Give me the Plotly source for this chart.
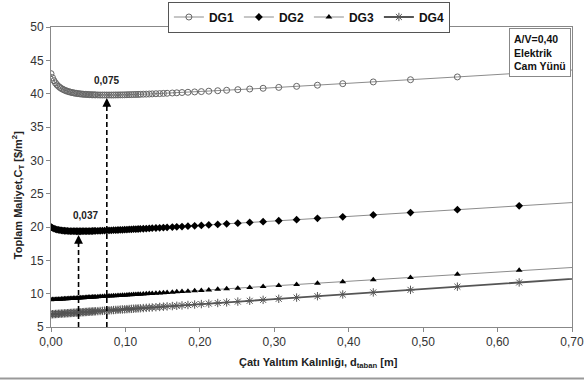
import plotly.graph_objects as go

# thickness d [m]
x_d = [0.000, 0.002, 0.004, 0.006, 0.008, 0.010, 0.012, 0.014, 0.016, 0.018,
       0.020, 0.022, 0.024, 0.026, 0.028, 0.030, 0.032, 0.034, 0.036, 0.038,
       0.040, 0.042, 0.044, 0.046, 0.048, 0.050, 0.052, 0.054, 0.056, 0.058,
       0.060, 0.063, 0.066, 0.069, 0.072, 0.075, 0.078, 0.081, 0.084, 0.087,
       0.090, 0.093, 0.096, 0.099, 0.102, 0.105,
       0.108, 0.111, 0.114, 0.117, 0.120, 0.124, 0.128, 0.132, 0.136, 0.141,
       0.146, 0.151, 0.156, 0.163, 0.169, 0.176, 0.184, 0.193, 0.202, 0.212,
       0.224, 0.236, 0.251, 0.267, 0.285, 0.306, 0.330, 0.358, 0.392, 0.433,
       0.483, 0.546, 0.629, 0.741]

dg1 = [43.00, 42.40, 41.95, 41.60, 41.33, 41.11, 40.93, 40.77, 40.65, 40.54,
       40.44, 40.36, 40.29, 40.23, 40.17, 40.13, 40.08, 40.05, 40.01, 39.98,
       39.96, 39.93, 39.91, 39.90, 39.88, 39.87, 39.85, 39.84, 39.83, 39.83,
       39.82, 39.81, 39.80, 39.80, 39.80, 39.80, 39.80, 39.80, 39.80, 39.81,
       39.81, 39.82, 39.82, 39.83, 39.84, 39.85,
       39.86, 39.87, 39.88, 39.89, 39.90, 39.92, 39.93, 39.95, 39.97, 39.99,
       40.01, 40.04, 40.06, 40.10, 40.13, 40.17, 40.21, 40.26, 40.31, 40.37,
       40.44, 40.51, 40.60, 40.70, 40.81, 40.94, 41.10, 41.27, 41.50, 41.76,
       42.09, 42.51, 43.07, 43.82]

dg2 = [20.00, 19.87, 19.76, 19.68, 19.62, 19.57, 19.53, 19.49, 19.46, 19.44,
       19.42, 19.41, 19.39, 19.38, 19.38, 19.37, 19.37, 19.36, 19.36, 19.36,
       19.36, 19.37, 19.37, 19.37, 19.38, 19.38, 19.39, 19.39, 19.40, 19.41,
       19.41, 19.42, 19.44, 19.45, 19.46, 19.48, 19.49, 19.50, 19.52, 19.53,
       19.55, 19.57, 19.58, 19.60, 19.62, 19.63,
       19.65, 19.67, 19.68, 19.70, 19.72, 19.74, 19.77, 19.79, 19.82, 19.85,
       19.88, 19.91, 19.94, 19.99, 20.03, 20.07, 20.12, 20.18, 20.24, 20.31,
       20.39, 20.47, 20.57, 20.68, 20.80, 20.94, 21.10, 21.30, 21.53, 21.81,
       22.16, 22.60, 23.17, 23.95]

dg3 = [9.10, 9.11, 9.13, 9.14, 9.16, 9.17, 9.18, 9.20, 9.21, 9.22,
       9.24, 9.25, 9.27, 9.28, 9.29, 9.31, 9.32, 9.33, 9.35, 9.36,
       9.38, 9.39, 9.40, 9.42, 9.43, 9.45, 9.46, 9.47, 9.49, 9.50,
       9.51, 9.53, 9.56, 9.58, 9.60, 9.62, 9.64, 9.66, 9.68, 9.70,
       9.72, 9.74, 9.76, 9.78, 9.80, 9.82,
       9.85, 9.87, 9.89, 9.91, 9.93, 9.96, 9.98, 10.01, 10.04, 10.07,
       10.11, 10.14, 10.18, 10.22, 10.27, 10.31, 10.37, 10.43, 10.49, 10.56,
       10.65, 10.73, 10.83, 10.94, 11.07, 11.21, 11.38, 11.57, 11.80, 12.09,
       12.43, 12.90, 13.50, 14.21]

dg4 = [6.90, 6.92, 6.93, 6.95, 6.96, 6.98, 6.99, 7.01, 7.02, 7.04,
       7.05, 7.07, 7.08, 7.10, 7.11, 7.13, 7.14, 7.16, 7.17, 7.19,
       7.20, 7.22, 7.23, 7.25, 7.26, 7.28, 7.30, 7.31, 7.33, 7.34,
       7.36, 7.38, 7.40, 7.42, 7.45, 7.47, 7.49, 7.52, 7.54, 7.56,
       7.58, 7.61, 7.63, 7.65, 7.68, 7.70,
       7.72, 7.74, 7.77, 7.79, 7.81, 7.84, 7.87, 7.90, 7.93, 7.97,
       8.01, 8.05, 8.09, 8.14, 8.18, 8.24, 8.30, 8.37, 8.44, 8.51,
       8.60, 8.69, 8.81, 8.93, 9.07, 9.23, 9.41, 9.62, 9.88, 10.19,
       10.57, 11.05, 11.68, 12.53]

names = ["DG1", "DG2", "DG3", "DG4"]
x_ticks = [0.0, 0.1, 0.2, 0.3, 0.4, 0.5, 0.6, 0.7]
x_tick_text = ["0,00", "0,10", "0,20", "0,30", "0,40", "0,50", "0,60", "0,70"]

# optimum thicknesses and their cost levels
opt_x = [0.075, 0.037]
opt_tip = [39.35, 18.8]
opt_labels = ["0,075", "0,037"]
opt_label_x = [0.074, 0.0466]
opt_label_y = [42.05, 21.8]

FONT = "Liberation Sans, Arial, sans-serif"

fig = go.Figure()
fig.add_trace(go.Scatter(x=x_d, y=dg1, name=names[0], mode="lines+markers",
                         line=dict(color="#8c8c8c", width=1),
                         marker=dict(symbol="circle-open", size=6, color="#666666",
                                     line=dict(color="#666666", width=1))))
fig.add_trace(go.Scatter(x=x_d, y=dg2, name=names[1], mode="lines+markers",
                         line=dict(color="#8c8c8c", width=1),
                         marker=dict(symbol="diamond", size=6, color="black")))
fig.add_trace(go.Scatter(x=x_d, y=dg3, name=names[2], mode="lines+markers",
                         line=dict(color="#8c8c8c", width=1),
                         marker=dict(symbol="triangle-up", size=6, color="black")))
fig.add_trace(go.Scatter(x=x_d, y=dg4, name=names[3], mode="lines+markers",
                         line=dict(color="#555555", width=1.8),
                         marker=dict(symbol="asterisk-open", size=7,
                                     line=dict(color="#555555", width=1))))

shapes = []
annotations = []
for ox, tip, lab, lx, ly in zip(opt_x, opt_tip, opt_labels, opt_label_x, opt_label_y):
    shapes.append(dict(type="line", xref="x", yref="y", x0=ox, x1=ox, y0=5, y1=tip - 0.8,
                       line=dict(color="black", width=1.6, dash="5px,3px")))
    annotations.append(dict(x=ox, y=tip, xref="x", yref="y", ax=ox, ay=tip - 1.6,
                            axref="x", ayref="y", text="", showarrow=True,
                            arrowhead=2, arrowsize=1.1, arrowwidth=1.6, arrowcolor="black"))
    annotations.append(dict(x=lx, y=ly, xref="x", yref="y", text="<b>" + lab + "</b>",
                            xanchor="center", yanchor="middle",
                            showarrow=False, font=dict(family=FONT, size=10, color="#222")))

annotations.append(dict(x=1.0, y=1.0, xref="paper", yref="paper", xanchor="right",
                        yanchor="top", xshift=-1, yshift=-1, align="left", showarrow=False,
                        text="<b>A/V=0,40<br>Elektrik<br>Cam Yünü</b>",
                        font=dict(family=FONT, size=10.5, color="#111"),
                        bgcolor="white", bordercolor="#888", borderwidth=1, borderpad=4))

annotations.append(dict(x=-0.063, y=0.44, xref="paper", yref="paper", textangle=-90,
                        xanchor="center", yanchor="middle", showarrow=False,
                        text="<b>Toplam Maliyet,C<sub>T</sub> [$/m<sup>2</sup>]</b>",
                        font=dict(family=FONT, size=11, color="#222")))
annotations.append(dict(x=0.5125, y=-0.12, xref="paper", yref="paper", showarrow=False,
                        xanchor="center", yanchor="middle",
                        text="<b>Çatı Yalıtım Kalınlığı, d<sub>taban</sub> [m]</b>",
                        font=dict(family=FONT, size=11, color="#222")))

shapes.append(dict(type="line", xref="paper", yref="paper", x0=-0.1, x1=1.03,
                   y0=-0.172, y1=-0.172, line=dict(color="#999", width=2)))

fig.update_layout(
    width=584, height=380,
    margin=dict(l=51, r=12, t=27, b=53, autoexpand=False),
    paper_bgcolor="white", plot_bgcolor="white",
    separators=",.",
    font=dict(family=FONT, size=12, color="#333"),
    showlegend=True,
    legend=dict(orientation="h", x=0.495, xanchor="center", y=1.085, yanchor="top",
                bordercolor="#555", borderwidth=1, bgcolor="white",
                font=dict(family=FONT, size=12, color="#111", weight="bold"),
                itemwidth=30, tracegroupgap=0),
    shapes=shapes,
    annotations=annotations,
    xaxis=dict(range=[0, 0.70], tickvals=x_ticks, ticktext=x_tick_text,
               ticklabeloverflow="allow",
               showgrid=False, zeroline=False, showline=True, linecolor="#888",
               linewidth=1, mirror=True, ticks="outside", ticklen=4, tickcolor="#888",
               tickfont=dict(family=FONT, size=12, color="#333")),
    yaxis=dict(range=[5, 50], tickmode="linear", tick0=5, dtick=5,
               showgrid=False, zeroline=False, showline=True, linecolor="#888",
               linewidth=1, mirror=True, ticks="outside", ticklen=4, tickcolor="#888",
               tickfont=dict(family=FONT, size=12, color="#333")),
)

fig.write_html("out.html")
